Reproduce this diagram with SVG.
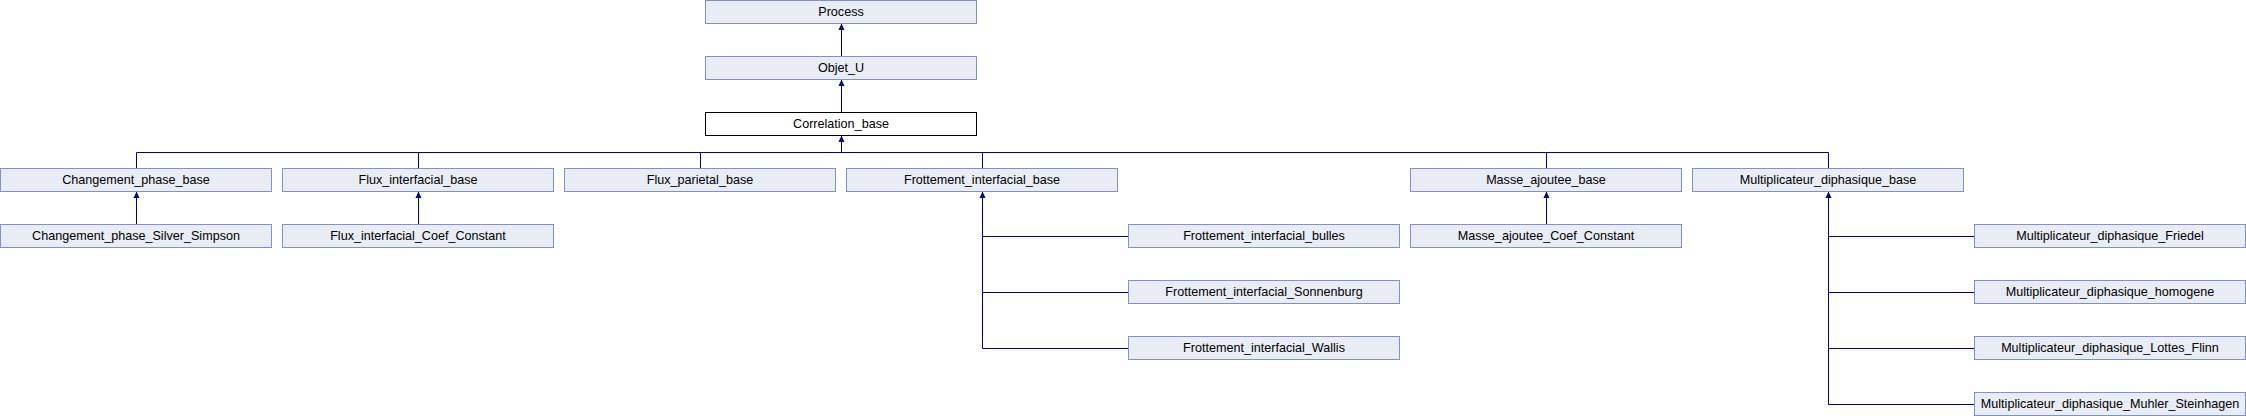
<svg xmlns="http://www.w3.org/2000/svg" width="2246" height="416" viewBox="0 0 2246 416">
<style>
.n rect{fill:#E8ECF4;stroke:#7B93C9;stroke-width:1}
.n.cur rect{fill:#FFFFFF;stroke:#000000}
.n text{font-family:"Liberation Sans",Arial,sans-serif;font-size:12.6px;fill:#000000;text-anchor:middle}
.e path{fill:none;stroke:#00008B;stroke-width:1}
.e polygon{fill:#00008B;stroke:none}
</style>
<rect width="2246" height="416" fill="#FFFFFF"/>
<g class="e" id="connectors">
<path d="M841.5,56V24"/><polygon points="841.5,23.5 838.5,30 844.5,30"/>
<path d="M841.5,112V80"/><polygon points="841.5,79.5 838.5,86 844.5,86"/>
<path d="M841.5,152.5V136"/><polygon points="841.5,135.5 838.5,142 844.5,142"/>
<path d="M136.5,152.5H1828.5"/>
<path d="M136.5,152.5V168M418.5,152.5V168M700.5,152.5V168M982.5,152.5V168M1546.5,152.5V168M1828.5,152.5V168"/>
<path d="M136.5,224V192"/><polygon points="136.5,191.5 133.5,198 139.5,198"/>
<path d="M418.5,224V192"/><polygon points="418.5,191.5 415.5,198 421.5,198"/>
<path d="M1546.5,224V192"/><polygon points="1546.5,191.5 1543.5,198 1549.5,198"/>
<path d="M982.5,348.5V192M982.5,236.5H1128M982.5,292.5H1128M982.5,348.5H1128"/><polygon points="982.5,191.5 979.5,198 985.5,198"/>
<path d="M1828.5,404.5V192M1828.5,236.5H1974M1828.5,292.5H1974M1828.5,348.5H1974M1828.5,404.5H1974"/><polygon points="1828.5,191.5 1825.5,198 1831.5,198"/>
</g>
<g class="n" id="Process"><rect x="705.5" y="0.5" width="271" height="23"/><text x="841" y="16">Process</text></g>
<g class="n" id="Objet_U"><rect x="705.5" y="56.5" width="271" height="23"/><text x="841" y="72">Objet_U</text></g>
<g class="n cur" id="Correlation_base"><rect x="705.5" y="112.5" width="271" height="23"/><text x="841" y="128">Correlation_base</text></g>
<g class="n" id="Changement_phase_base"><rect x="0.5" y="168.5" width="271" height="23"/><text x="136" y="184">Changement_phase_base</text></g>
<g class="n" id="Flux_interfacial_base"><rect x="282.5" y="168.5" width="271" height="23"/><text x="418" y="184">Flux_interfacial_base</text></g>
<g class="n" id="Flux_parietal_base"><rect x="564.5" y="168.5" width="271" height="23"/><text x="700" y="184">Flux_parietal_base</text></g>
<g class="n" id="Frottement_interfacial_base"><rect x="846.5" y="168.5" width="271" height="23"/><text x="982" y="184">Frottement_interfacial_base</text></g>
<g class="n" id="Masse_ajoutee_base"><rect x="1410.5" y="168.5" width="271" height="23"/><text x="1546" y="184">Masse_ajoutee_base</text></g>
<g class="n" id="Multiplicateur_diphasique_base"><rect x="1692.5" y="168.5" width="271" height="23"/><text x="1828" y="184">Multiplicateur_diphasique_base</text></g>
<g class="n" id="Changement_phase_Silver_Simpson"><rect x="0.5" y="224.5" width="271" height="23"/><text x="136" y="240">Changement_phase_Silver_Simpson</text></g>
<g class="n" id="Flux_interfacial_Coef_Constant"><rect x="282.5" y="224.5" width="271" height="23"/><text x="418" y="240">Flux_interfacial_Coef_Constant</text></g>
<g class="n" id="Frottement_interfacial_bulles"><rect x="1128.5" y="224.5" width="271" height="23"/><text x="1264" y="240">Frottement_interfacial_bulles</text></g>
<g class="n" id="Frottement_interfacial_Sonnenburg"><rect x="1128.5" y="280.5" width="271" height="23"/><text x="1264" y="296">Frottement_interfacial_Sonnenburg</text></g>
<g class="n" id="Frottement_interfacial_Wallis"><rect x="1128.5" y="336.5" width="271" height="23"/><text x="1264" y="352">Frottement_interfacial_Wallis</text></g>
<g class="n" id="Masse_ajoutee_Coef_Constant"><rect x="1410.5" y="224.5" width="271" height="23"/><text x="1546" y="240">Masse_ajoutee_Coef_Constant</text></g>
<g class="n" id="Multiplicateur_diphasique_Friedel"><rect x="1974.5" y="224.5" width="271" height="23"/><text x="2110" y="240">Multiplicateur_diphasique_Friedel</text></g>
<g class="n" id="Multiplicateur_diphasique_homogene"><rect x="1974.5" y="280.5" width="271" height="23"/><text x="2110" y="296">Multiplicateur_diphasique_homogene</text></g>
<g class="n" id="Multiplicateur_diphasique_Lottes_Flinn"><rect x="1974.5" y="336.5" width="271" height="23"/><text x="2110" y="352">Multiplicateur_diphasique_Lottes_Flinn</text></g>
<g class="n" id="Multiplicateur_diphasique_Muhler_Steinhagen"><rect x="1974.5" y="392.5" width="271" height="23"/><text x="2110" y="408">Multiplicateur_diphasique_Muhler_Steinhagen</text></g>
</svg>
